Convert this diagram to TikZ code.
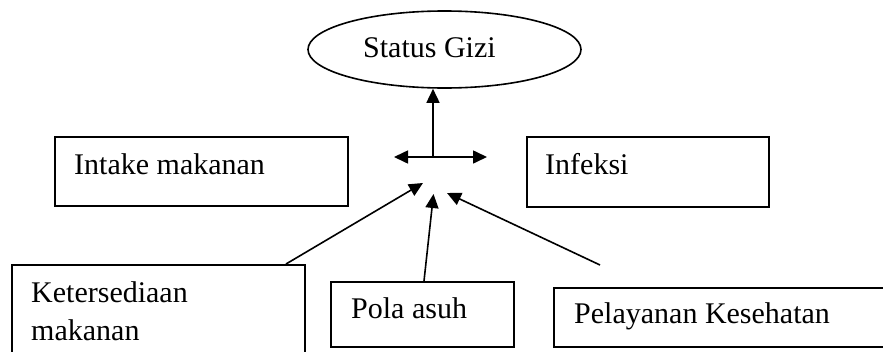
\documentclass[tikz,border=0pt]{standalone}
\usepackage{fontspec}
\setmainfont{Liberation Serif}
\usetikzlibrary{arrows.meta,shapes.geometric}
\begin{document}
\begin{tikzpicture}[x=1pt,y=-1pt,
  box/.style={draw,line width=1.6pt,rectangle,inner sep=0pt,anchor=north west},
  lbl/.style={anchor=base west,inner sep=0pt,font=\fontsize{30}{39}\selectfont},
  conn/.style={line width=1.6pt,-{Triangle[length=14pt,width=13pt]}},
  conn2/.style={line width=1.6pt,{Triangle[length=14pt,width=13pt]}-{Triangle[length=14pt,width=13pt]}}]
\useasboundingbox (0,0) rectangle (883,351);
\clip (0,0) rectangle (883,351);
% ellipse
\node[draw,ellipse,line width=1.6pt,minimum width=273pt,minimum height=77pt,inner sep=0pt] (gizi) at (444.5,49.5) {};
\node[lbl] (tgizi) at (363,57) {Status Gizi};
% boxes
\node[box,minimum width=293pt,minimum height=69pt] (intake) at (54,136) {};
\node[lbl] (tintake) at (74,174) {Intake makanan};
\node[box,minimum width=242pt,minimum height=70pt] (infeksi) at (526,136) {};
\node[lbl] (tinfeksi) at (545,174) {Infeksi};
\node[box,minimum width=293pt,minimum height=110pt] (keter) at (11,264) {};
\node[lbl] (tketer1) at (31,302) {Ketersediaan};
\node[lbl] (tketer2) at (31,340) {makanan};
\node[box,minimum width=183pt,minimum height=65pt] (pola) at (330,281) {};
\node[lbl] (tpola) at (351,318) {Pola asuh};
\node[box,minimum width=350pt,minimum height=59pt] (pelayanan) at (553,287) {};
\node[lbl] (tpelayanan) at (574,323) {Pelayanan Kesehatan};
% hub and arrows
\coordinate (hub) at (433,157);
\coordinate (hl) at (394,157);
\coordinate (hr) at (487,157);
\draw[conn] (hub) -- (hub |- gizi.south);
\draw[conn2] (hl) -- (hr);
\coordinate (tipA) at (423,183);
\coordinate (tipB) at (433.5,194);
\coordinate (tipC) at (447,193);
\coordinate (kstart) at (286,264);
\coordinate (pstart) at (424,281);
\coordinate (sstart) at (600,265);
\draw[conn] (kstart) -- (tipA);
\draw[conn] (pstart) -- (tipB);
\draw[conn] (sstart) -- (tipC);
\end{tikzpicture}
\end{document}
